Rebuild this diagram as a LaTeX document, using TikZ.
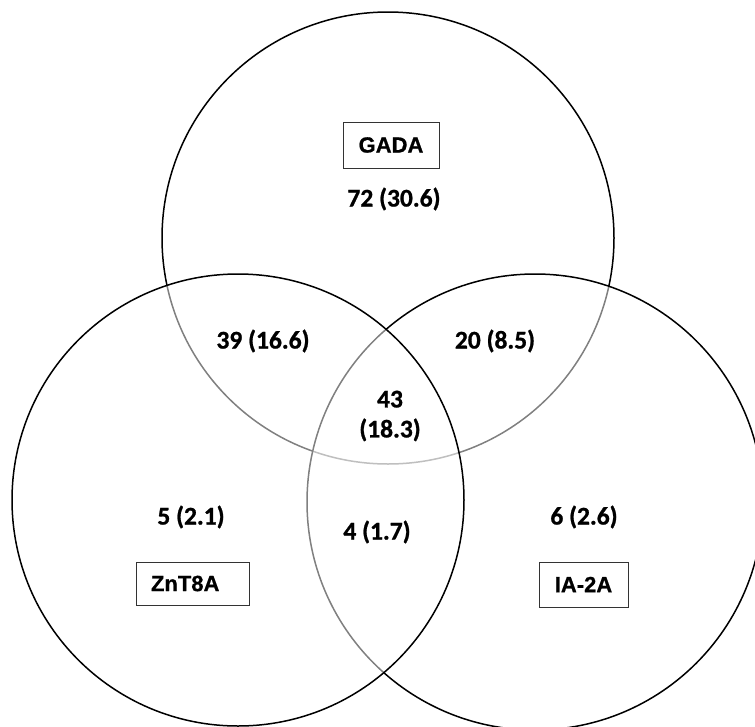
\documentclass[tikz,border=0pt]{standalone}
\usepackage{fontspec}
\setmainfont{Liberation Sans}[BoldFeatures={FakeBold=0.8}]
\newfontfamily\numfont{Carlito}[BoldFeatures={FakeBold=0.9}]
\begin{document}
\begin{tikzpicture}[x=1pt,y=-1pt,
  setcirc/.style={circle, draw=black, line width=1.5pt, inner sep=0pt, outer sep=0pt},
  overlay fill/.style={fill=white, fill opacity=0.5},
  labbox/.style={draw=black!80, line width=0.9pt, inner sep=0pt, font=\fontsize{22}{24}\selectfont\bfseries},
  num/.style={font=\numfont\fontsize{25.5}{30}\selectfont\bfseries, inner sep=0pt, align=center}]
\useasboundingbox (0,0) rectangle (755,726);
\clip (0,0) rectangle (755,726);
% circles
\node[setcirc, minimum size=452pt] (ctop) at (388,238) {};
\node[setcirc, overlay fill, minimum size=456pt] (cright) at (535,502) {};
\node[setcirc, overlay fill, minimum size=452pt] (cleft) at (238,500) {};
% labels in boxes
\node[labbox, minimum width=96pt, minimum height=46pt] (gada) at (391,145) {GADA};
\node[labbox, minimum width=113pt, minimum height=43pt, text width=113pt, align=left] (znt) at (192.5,583.5) {\hspace{15pt}ZnT8A};
\node[labbox, minimum width=89pt, minimum height=45pt] (ia2a) at (583.5,584.5) {IA-2A};
% numbers
\node[num] (n72) at (394,199) {72 (30.6)};
\node[num] (n39) at (263,341) {39 (16.6)};
\node[num] (n20) at (495,341) {20 (8.5)};
\node[num] (n43) at (390,416) {43\\(18.3)};
\node[num] (n5) at (191,517) {5 (2.1)};
\node[num] (n4) at (377,532) {4 (1.7)};
\node[num] (n6) at (584,517) {6 (2.6)};
\end{tikzpicture}
\end{document}
